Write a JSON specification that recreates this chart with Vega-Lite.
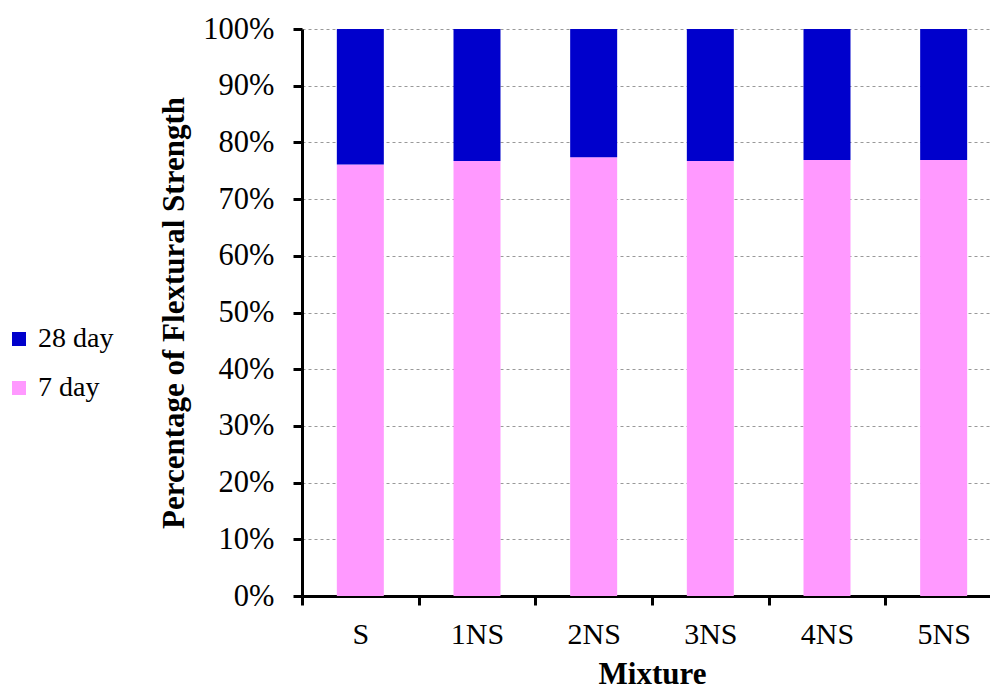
{
  "$schema": "https://vega.github.io/schema/vega-lite/v6.json",
  "autosize": "none",
  "padding": {"left": 302, "top": 29, "right": 0, "bottom": 93},
  "width": 700,
  "height": 567,
  "background": "white",
  "config": {
    "font": "Liberation Serif",
    "view": {"stroke": null}
  },
  "data": {
    "values": [
      {"mixture": "S", "period": "7 day", "value": 76.1},
      {"mixture": "S", "period": "28 day", "value": 23.9},
      {"mixture": "1NS", "period": "7 day", "value": 76.7},
      {"mixture": "1NS", "period": "28 day", "value": 23.3},
      {"mixture": "2NS", "period": "7 day", "value": 77.4},
      {"mixture": "2NS", "period": "28 day", "value": 22.6},
      {"mixture": "3NS", "period": "7 day", "value": 76.7},
      {"mixture": "3NS", "period": "28 day", "value": 23.3},
      {"mixture": "4NS", "period": "7 day", "value": 76.9},
      {"mixture": "4NS", "period": "28 day", "value": 23.1},
      {"mixture": "5NS", "period": "7 day", "value": 76.9},
      {"mixture": "5NS", "period": "28 day", "value": 23.1}
    ]
  },
  "mark": {"type": "bar", "size": 47},
  "encoding": {
    "x": {
      "field": "mixture",
      "type": "nominal",
      "sort": ["S", "1NS", "2NS", "3NS", "4NS", "5NS"],
      "title": "Mixture",
      "scale": {"paddingInner": 0, "paddingOuter": 0},
      "axis": {
        "labelAngle": 0,
        "labelFont": "Liberation Serif",
        "labelFontSize": 30,
        "labelColor": "#000",
        "labelPadding": 14,
        "titleFont": "Liberation Serif",
        "titleFontSize": 31,
        "titleFontWeight": "bold",
        "titleColor": "#000",
        "titlePadding": 10,
        "domainColor": "#000",
        "domainWidth": 3,
        "tickColor": "#000",
        "tickWidth": 3,
        "tickSize": 9,
        "tickBand": "extent",
        "grid": false
      }
    },
    "y": {
      "field": "value",
      "type": "quantitative",
      "stack": "normalize",
      "title": "Percentage of Flextural Strength",
      "scale": {"domain": [0, 1], "nice": false},
      "axis": {
        "values": [0, 0.1, 0.2, 0.3, 0.4, 0.5, 0.6, 0.7, 0.8, 0.9, 1],
        "format": ".0%",
        "labelFont": "Liberation Serif",
        "labelFontSize": 30.5,
        "labelColor": "#000",
        "labelPadding": 19,
        "titleFont": "Liberation Serif",
        "titleFontSize": 31,
        "titleFontWeight": "bold",
        "titleColor": "#000",
        "titlePadding": 12,
        "domainColor": "#000",
        "domainWidth": 3,
        "tickColor": "#000",
        "tickWidth": 3,
        "tickSize": 9,
        "grid": true,
        "gridColor": "#999",
        "gridDash": [3, 3],
        "gridWidth": 1
      }
    },
    "color": {
      "field": "period",
      "type": "nominal",
      "scale": {"domain": ["28 day", "7 day"], "range": ["#0000CC", "#FF99FF"]},
      "legend": {
        "title": null,
        "orient": "none",
        "legendX": -297,
        "legendY": 296,
        "padding": 0,
        "symbolType": "square",
        "symbolSize": 196,
        "symbolStrokeWidth": 0,
        "labelFont": "Liberation Serif",
        "labelFontSize": 28,
        "labelColor": "#000",
        "rowPadding": 21,
        "labelOffset": 5
      }
    },
    "order": {"field": "period", "sort": "descending"}
  }
}
